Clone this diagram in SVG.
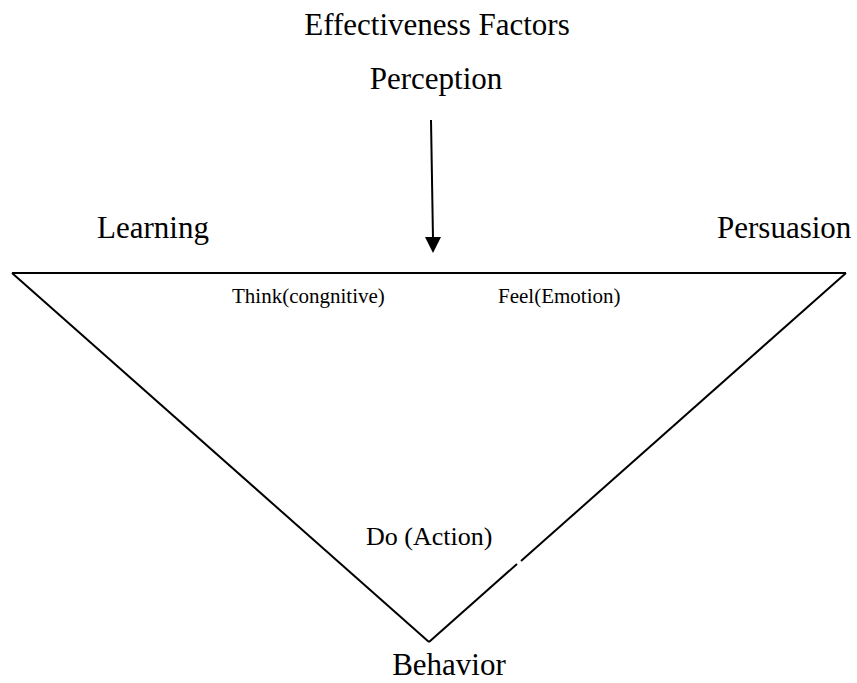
<svg xmlns="http://www.w3.org/2000/svg" width="857" height="683" viewBox="0 0 857 683">
<style>
text{font-family:"Liberation Serif","Times New Roman",serif;fill:#000}
.big{font-size:31px}
.small{font-size:21px}
.mid{font-size:26px}
.ln{stroke:#000;stroke-width:2;fill:none;stroke-linecap:butt}
</style>
<rect width="857" height="683" fill="#fff"/>
<g id="connectors">
<line class="ln" x1="431" y1="120" x2="433" y2="239"/>
<polygon points="425,237 441,237 433,253" fill="#000"/>
</g>
<g id="triangle">
<line class="ln" x1="12" y1="273" x2="846" y2="273"/>
<line class="ln" x1="12" y1="273" x2="429" y2="642"/>
<line class="ln" x1="429" y1="642" x2="517" y2="564"/>
<line class="ln" x1="521" y1="561" x2="846" y2="273"/>
</g>
<g id="title"><text class="big" x="437" y="35" text-anchor="middle">Effectiveness Factors</text></g>
<g id="perception"><text class="big" x="436" y="89" text-anchor="middle">Perception</text></g>
<g id="learning"><text class="big" x="97" y="238">Learning</text></g>
<g id="persuasion"><text class="big" x="717" y="238">Persuasion</text></g>
<g id="think"><text class="small" x="232" y="303">Think(congnitive)</text></g>
<g id="feel"><text class="small" x="498" y="303">Feel(Emotion)</text></g>
<g id="do"><text class="mid" x="366" y="545">Do (Action)</text></g>
<g id="behavior"><text class="big" x="449" y="675" text-anchor="middle">Behavior</text></g>
</svg>
